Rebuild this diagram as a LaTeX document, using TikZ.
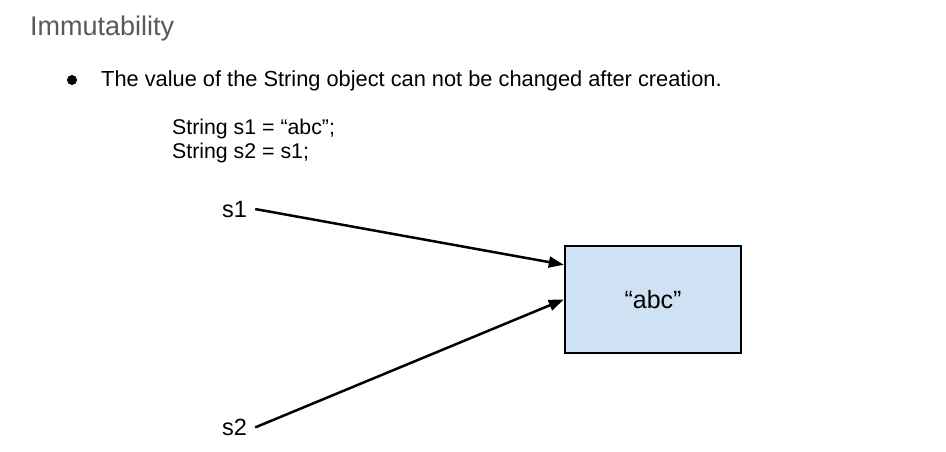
\documentclass[tikz,border=0pt]{standalone}
\usepackage{fontspec}
\setmainfont{Liberation Sans}
\usetikzlibrary{arrows.meta}

\definecolor{headgray}{HTML}{595959}
\definecolor{boxblue}{HTML}{CFE2F3}

\begin{document}
\begin{tikzpicture}[x=1pt, y=-1pt,
    txt/.style={inner sep=0pt, anchor=base west, font=\fontsize{21.8}{26}\selectfont},
    var/.style={inner xsep=8pt, inner ysep=0pt, anchor=base west, font=\fontsize{23.5}{28}\selectfont},
    obj/.style={rectangle, draw, line width=2.5pt, fill=boxblue, minimum width=176pt, minimum height=107pt, font=\fontsize{25}{30}\selectfont},
    ref/.style={-{Triangle[length=15pt, width=11pt]}, line width=2.5pt}
]
\useasboundingbox (0,0) rectangle (946,452);

% Heading and bullet
\node[txt, font=\fontsize{27}{32}\selectfont, text=headgray] (title) at (30,36) {Immutability};
\node[circle, fill, inner sep=0pt, minimum size=10pt] (dot) at (72,80) {};
\node[txt] (point) at (101,86.5) {The value of the String object can not be changed after creation.};

% Code
\node[txt, font=\fontsize{21.3}{26}\selectfont] (line1) at (172,134.3) {String s1 = “abc”;};
\node[txt, font=\fontsize{21.3}{26}\selectfont] (line2) at (172,158.3) {String s2 = s1;};

% Variables and object
\node[var] (s1) at (214,217) {s1};
\node[var] (s2) at (214,435.5) {s2};
\node[obj] (abc) at (653,299.5) {“abc”};

% References
\draw[ref] (s1.east) -- ([yshift=-20pt]abc.north west);
\draw[ref] (s2.east) -- (abc.west);

\end{tikzpicture}
\end{document}
